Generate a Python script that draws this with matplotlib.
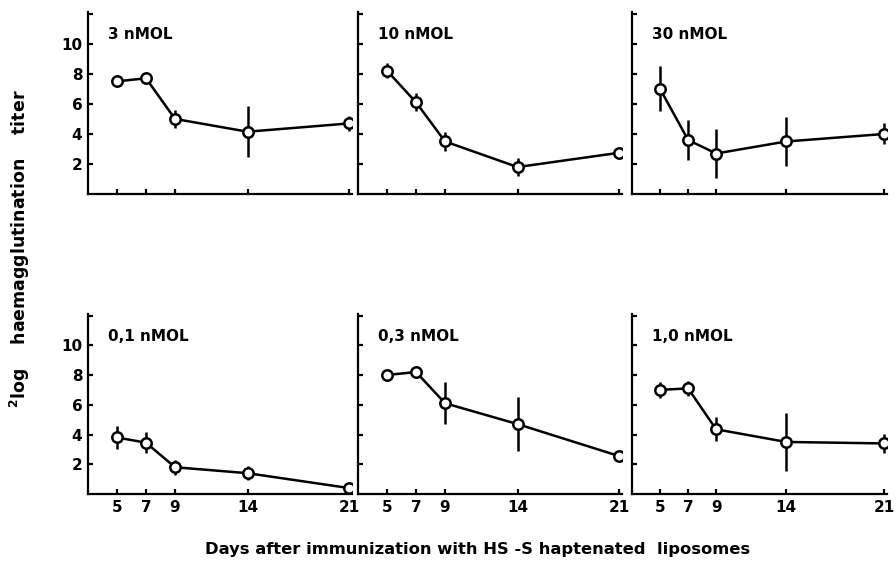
import numpy as np
import matplotlib
matplotlib.use('Agg')
import matplotlib.pyplot as plt

# days after immunization
days = [5, 7, 9, 14, 21]

# panel titles (dose of haptenated liposomes)
titles = ['3 nMOL', '10 nMOL', '30 nMOL', '0,1 nMOL', '0,3 nMOL', '1,0 nMOL']

# 2log haemagglutination titer, mean and error per panel
titer_3 = [7.5, 7.7, 5.0, 4.15, 4.7]
err_3 = [0.2, 0.3, 0.6, 1.7, 0.5]
titer_10 = [8.2, 6.1, 3.5, 1.8, 2.75]
err_10 = [0.5, 0.6, 0.6, 0.6, 0.2]
titer_30 = [7.0, 3.6, 2.7, 3.5, 4.0]
err_30 = [1.5, 1.3, 1.6, 1.65, 0.7]
titer_01 = [3.8, 3.45, 1.8, 1.4, 0.4]
err_01 = [0.75, 0.7, 0.5, 0.45, 0.1]
titer_03 = [8.0, 8.2, 6.1, 4.7, 2.55]
err_03 = [0.3, 0.4, 1.4, 1.8, 0.1]
titer_10b = [7.0, 7.1, 4.35, 3.5, 3.4]
err_10b = [0.55, 0.5, 0.8, 1.95, 0.65]

series = [(titer_3, err_3), (titer_10, err_10), (titer_30, err_30),
          (titer_01, err_01), (titer_03, err_03), (titer_10b, err_10b)]

y_ticks = [2, 4, 6, 8, 10, 12]
y_labels = ['2', '4', '6', '8', '10', '']

plt.rcParams['font.family'] = ['DejaVu Sans']
plt.rcParams['font.weight'] = 'bold'

fig = plt.figure(figsize=(8.96, 5.66), dpi=100)

lefts = [0.0982, 0.3996, 0.7054]
widths = [0.2946, 0.2946, 0.2846]
bottoms = [0.657, 0.1272]
heights = [0.3216, 0.318]

for i, (vals, errs) in enumerate(series):
    row, col = divmod(i, 3)
    ax = fig.add_axes([lefts[col], bottoms[row], widths[col], heights[row]])
    ax.errorbar(days, vals, yerr=errs, color='black', linewidth=1.8,
                elinewidth=1.8, capsize=0, marker='o', markersize=7.5,
                markerfacecolor='white', markeredgecolor='black',
                markeredgewidth=1.8)
    ax.set_xlim(3, 21.2)
    ax.set_ylim(0, 12.1)
    ax.spines['top'].set_visible(False)
    ax.spines['right'].set_visible(False)
    ax.spines['left'].set_linewidth(1.6)
    ax.spines['bottom'].set_linewidth(1.6)
    ax.set_xticks(days)
    ax.set_yticks(y_ticks)
    ax.tick_params(direction='in', length=3.5, width=1.6, labelsize=11, pad=4)
    if col == 0:
        ax.set_yticklabels(y_labels, fontweight='bold')
    else:
        ax.set_yticklabels([])
    if row == 1:
        ax.set_xticklabels([str(d) for d in days], fontweight='bold')
    else:
        ax.set_xticklabels([])
    ax.text(4.4, 10.6, titles[i], fontsize=11, fontweight='bold', va='center')

fig.text(0.022, 0.56, r'$^{2}$log    haemagglutination    titer', rotation=90,
         ha='center', va='center', fontsize=12.5, fontweight='bold')
fig.text(0.533, 0.03, 'Days after immunization with HS -S haptenated  liposomes',
         ha='center', va='center', fontsize=11.8, fontweight='bold')

fig.savefig('out.png', dpi=100)
